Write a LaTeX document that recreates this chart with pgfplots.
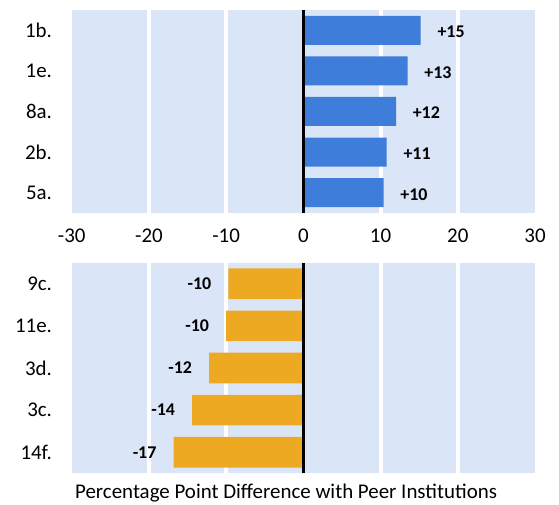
\documentclass[border=0pt]{standalone}
\usepackage{pgfplots}
\usepackage{pgfplotstable}
\pgfplotsset{compat=1.18}
\usepackage{fontspec}
\setmainfont{Carlito}
\definecolor{bgblue}{RGB}{218,229,247}
\definecolor{barblue}{RGB}{63,125,219}
\definecolor{barorange}{RGB}{238,169,34}
\pgfplotstableread{
y x lab
5 15.2 +15
4 13.5 +13
3 12.0 +12
2 10.8 +11
1 10.4 +10
}\toptable
\pgfplotstableread{
y x lab
5 -9.7 -10
4 -10.0 -10
3 -12.2 -12
2 -14.4 -14
1 -16.8 -17
}\bottable
\pgfplotsset{
 panel/.style={
   scale only axis, width=463.3bp, xmin=-30, xmax=30, ymin=0.5, ymax=5.5,
   axis line style={draw=none}, major tick length=0pt, tick style={draw=none},
   axis background/.style={fill=bgblue},
   ytick={1,2,3,4,5},
   yticklabel style={font=\fontsize{21}{24}\selectfont, inner sep=0pt, xshift=-19.5bp},
   extra x ticks={-20,-10,10,20}, extra x tick labels={},
   extra x tick style={grid=major, major tick length=0pt, tick style={draw=none}, major grid style={white, line width=4bp}},
   xbar,
   point meta=explicit symbolic,
   nodes near coords,
   nodes near coords style={font=\fontsize{18}{20}\selectfont\bfseries, inner sep=0pt, text=black},
 }
}
\begin{document}
\begin{tikzpicture}
\path[use as bounding box] (0,0) rectangle (559bp,505bp);
\begin{axis}[panel, at={(71.7bp,292bp)}, anchor=south west, height=203bp,
  yticklabels={5a.,2b.,8a.,1e.,1b.},
  xtick={-30,-20,-10,0,10,20,30},
  xticklabels={-30,-20,-10,0,10,20,30},
  xticklabel style={anchor=base, yshift=-30bp, font=\fontsize{21}{24}\selectfont},
  bar width=29bp,
  every node near coord/.append style={anchor=west, xshift=16.6bp, yshift=-1.5bp},
]
\addplot[fill=barblue, draw=none] table[x=x, y=y, meta=lab] {\toptable};
\draw[black, line width=2.7bp] (axis cs:0,0.5) -- (axis cs:0,5.5);
\end{axis}
\begin{axis}[panel, at={(71.7bp,31.7bp)}, anchor=south west, height=210.6bp,
  yticklabels={14f.,3c.,3d.,11e.,9c.},
  xtick=\empty,
  bar width=30.7bp,
  every node near coord/.append style={anchor=east, xshift=-17bp},
  xlabel={Percentage Point Difference with Peer Institutions},
  x label style={at={(axis description cs:0.4626,0)}, anchor=base, yshift=-25bp, font=\fontsize{21}{24}\selectfont},
]
\addplot[fill=barorange, draw=none] table[x=x, y=y, meta=lab] {\bottable};
\draw[black, line width=2.7bp] (axis cs:0,0.5) -- (axis cs:0,5.5);
\end{axis}
\end{tikzpicture}
\end{document}
